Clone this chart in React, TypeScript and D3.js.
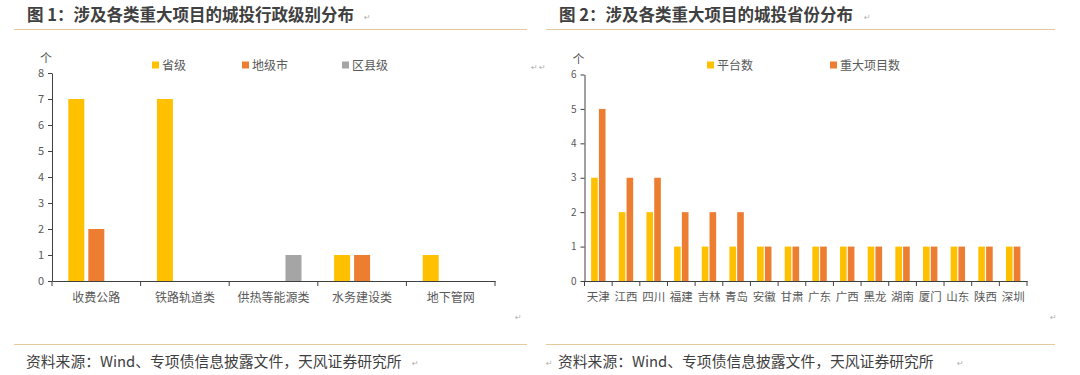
import React, { useEffect, useRef } from "react";
import * as d3 from "d3";

// 图1 data
const levelCategories = ["收费公路", "铁路轨道类", "供热等能源类", "水务建设类", "地下管网"];
const levelSeries = ["省级", "地级市", "区县级"];
const provincialLevel = [7, 7, 0, 1, 1];
const cityLevel = [2, 0, 0, 1, 0];
const countyLevel = [0, 0, 1, 0, 0];
const levelTicks = [0, 1, 2, 3, 4, 5, 6, 7, 8];

// 图2 data
const provinces = ["天津", "江西", "四川", "福建", "吉林", "青岛", "安徽", "甘肃", "广东", "广西", "黑龙", "湖南", "厦门", "山东", "陕西", "深圳"];
const provinceSeries = ["平台数", "重大项目数"];
const platformCount = [3, 2, 2, 1, 1, 1, 1, 1, 1, 1, 1, 1, 1, 1, 1, 1];
const projectCount = [5, 3, 3, 2, 2, 2, 1, 1, 1, 1, 1, 1, 1, 1, 1, 1];
const provinceTicks = [0, 1, 2, 3, 4, 5, 6];

const FONT = "'Noto Sans CJK SC', 'Noto Sans', sans-serif";
const TEXT = "#595959";
const AXIS = "#404040";
const RULE = "#e6c99a";
const COLORS = ["#FFC000", "#ED7D31", "#A5A5A5"];

const App = () => {
  const svgRef = useRef(null);

  useEffect(() => {
    const svg = d3.select(svgRef.current);
    svg.selectAll("*").remove();

    // paragraph marks like in the Word source
    const para = (x, y) =>
      svg.append("text").attr("x", x).attr("y", y).text("↵")
        .attr("font-size", 8).attr("fill", "#b0b0b0").attr("font-family", "DejaVu Sans");

    const panel = ({ x0, x1, title, categories, series, values, ticks, yTop, yBottom, axisX0, axisX1, groupWidth, innerPad, tickFont, labelFont, legendX }) => {
      // title + rules
      svg.append("text").attr("x", x0 + 13).attr("y", 21).text(title)
        .attr("font-family", FONT).attr("font-size", 16.5).attr("font-weight", "bold").attr("fill", "#404040");
      svg.append("line").attr("x1", x0).attr("x2", x1).attr("y1", 29.5).attr("y2", 29.5)
        .attr("stroke", RULE).attr("stroke-width", 1.2);
      svg.append("line").attr("x1", x0).attr("x2", x1).attr("y1", 344.5).attr("y2", 344.5)
        .attr("stroke", RULE).attr("stroke-width", 1.2);
      svg.append("text").attr("x", x0 + 12).attr("y", 367).text("资料来源：Wind、专项债信息披露文件，天风证券研究所")
        .attr("font-family", FONT).attr("font-size", 14.8).attr("fill", "#404040");

      const x = d3.scaleBand().domain(categories).range([axisX0, axisX1]).padding(0);
      const y = d3.scaleLinear().domain([ticks[0], ticks[ticks.length - 1]]).range([yBottom, yTop]);
      const inner = d3.scaleBand().domain(series).range([-groupWidth / 2, groupWidth / 2]).paddingInner(innerPad);

      const g = svg.append("g");

      // bars
      series.forEach((s, si) => {
        g.selectAll(null)
          .data(categories)
          .enter()
          .append("rect")
          .attr("x", (c) => x(c) + x.bandwidth() / 2 + inner(s))
          .attr("y", (c, i) => y(values[si][i]))
          .attr("width", inner.bandwidth())
          .attr("height", (c, i) => yBottom - y(values[si][i]))
          .attr("fill", COLORS[si]);
      });

      // y axis
      const yAxis = g.append("g").attr("transform", `translate(${axisX0},0)`)
        .call(d3.axisLeft(y).tickValues(ticks).tickFormat(d3.format("d")).tickSize(4).tickSizeOuter(0).tickPadding(4));
      yAxis.select(".domain").attr("stroke", AXIS);
      yAxis.selectAll(".tick line").attr("stroke", AXIS);
      yAxis.selectAll("text").attr("fill", TEXT).attr("font-size", tickFont).attr("font-family", FONT);

      // unit label above the y axis
      svg.append("text").attr("x", axisX0 - 6).attr("y", yTop - 10.5).text("个")
        .attr("font-family", FONT).attr("font-size", 12).attr("fill", TEXT).attr("text-anchor", "middle");

      // x axis
      const xAxis = g.append("g").attr("transform", `translate(0,${yBottom})`)
        .call(d3.axisBottom(x).tickSize(0).tickPadding(12));
      xAxis.select(".domain").attr("stroke", AXIS);
      xAxis.selectAll("text").attr("fill", TEXT).attr("font-size", labelFont).attr("font-family", FONT);
      const bounds = categories.map((c) => x(c)).concat([x.range()[1]]);
      g.selectAll(null).data(bounds).enter().append("line")
        .attr("x1", (d) => d).attr("x2", (d) => d)
        .attr("y1", yBottom).attr("y2", yBottom + 5)
        .attr("stroke", AXIS);

      // legend
      series.forEach((s, si) => {
        svg.append("rect").attr("x", legendX[si]).attr("y", 61.5).attr("width", 7).attr("height", 7).attr("fill", COLORS[si]);
        svg.append("text").attr("x", legendX[si] + 10).attr("y", 69.5).text(s)
          .attr("font-family", FONT).attr("font-size", 12).attr("fill", TEXT);
      });
    };

    panel({
      x0: 14, x1: 527,
      title: "图 1：涉及各类重大项目的城投行政级别分布",
      categories: levelCategories, series: levelSeries,
      values: [provincialLevel, cityLevel, countyLevel],
      ticks: levelTicks, yTop: 73, yBottom: 281,
      axisX0: 52, axisX1: 495, groupWidth: 56, innerPad: 0.2,
      tickFont: 11, labelFont: 12, legendX: [152, 242, 342],
    });

    panel({
      x0: 546, x1: 1055,
      title: "图 2：涉及各类重大项目的城投省份分布",
      categories: provinces, series: provinceSeries,
      values: [platformCount, projectCount],
      ticks: provinceTicks, yTop: 74.5, yBottom: 281,
      axisX0: 584.5, axisX1: 1027, groupWidth: 14.4, innerPad: 0.15,
      tickFont: 10, labelFont: 11.5, legendX: [707, 830],
    });

    para(364, 20);
    para(864, 20);
    para(531, 70);
    para(539, 70);
    para(515, 320);
    para(1050, 320);
    para(412, 366);
    para(546, 366);
    para(957, 366);
  }, []);

  return (
    <svg
      ref={svgRef}
      width={1080}
      height={375}
      style={{ position: "absolute", left: 0, top: 0, background: "#ffffff" }}
    ></svg>
  );
};

export default App;
